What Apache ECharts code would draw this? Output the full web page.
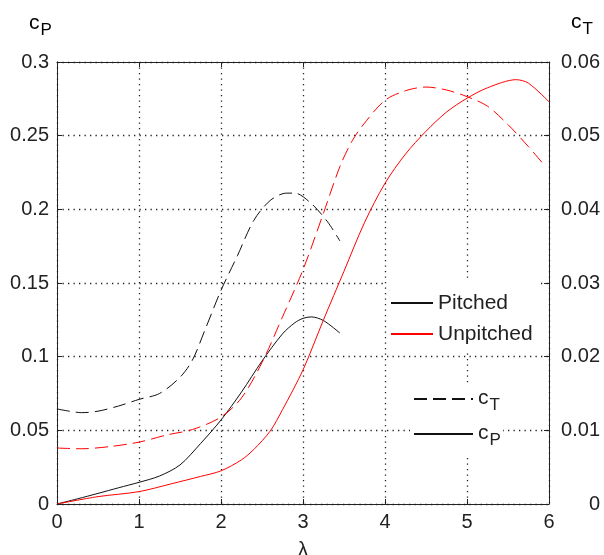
<!DOCTYPE html>
<html>

<head>
  <meta charset="utf-8">
  <title>cP / cT</title>
  <script src="https://cdn.jsdelivr.net/npm/echarts@6/dist/echarts.min.js"></script>
</head>

<body style="margin:0;background:#fff">
  <div id="main" style="width:604px;height:555px;"></div>
  <script type="text/javascript">
    // pitched rotor, power coefficient (left axis)
    var lambdaPitchedCp = [0, 0.25, 0.5, 0.75, 1.0, 1.25, 1.5, 1.75, 2.0, 2.25, 2.5, 2.75, 2.9, 3.0, 3.1, 3.25, 3.45]
    var pitchedCp = [0, 0.0035, 0.0072, 0.011, 0.0147, 0.019, 0.0265, 0.041, 0.057, 0.076, 0.097, 0.1155, 0.123, 0.126, 0.127, 0.1245, 0.116]
    // pitched rotor, thrust coefficient (right axis)
    var lambdaPitchedCt = [0, 0.15, 0.3, 0.5, 0.75, 1.0, 1.25, 1.5, 1.65, 1.8, 2.0, 2.2, 2.4, 2.6, 2.8, 2.9, 3.1, 3.3, 3.45]
    var pitchedCt = [0.0129, 0.0126, 0.0124, 0.0126, 0.0133, 0.0142, 0.015, 0.0172, 0.0195, 0.0235, 0.029, 0.0337, 0.0385, 0.0412, 0.0422, 0.0422, 0.0408, 0.0383, 0.0357]
    // unpitched rotor
    var lambdaUnpitchedCp = [0, 0.5, 1.0, 1.4, 1.75, 2.0, 2.25, 2.4, 2.6, 2.75, 3.0, 3.25, 3.5, 3.75, 4.0, 4.25, 4.5, 4.75, 5.0, 5.25, 5.6, 5.75, 6.0]
    var unpitchedCp = [0, 0.005, 0.0084, 0.0138, 0.0187, 0.0225, 0.030, 0.037, 0.0495, 0.064, 0.091, 0.125, 0.158, 0.191, 0.2177, 0.2375, 0.253, 0.266, 0.2754, 0.2825, 0.288, 0.2856, 0.273]
    var lambdaUnpitchedCt = [0, 0.3, 0.65, 1.0, 1.35, 1.65, 2.0, 2.25, 2.5, 2.75, 3.0, 3.25, 3.45, 3.6, 3.75, 4.0, 4.25, 4.5, 4.75, 5.0, 5.25, 5.5, 5.75, 5.95]
    var unpitchedCt = [0.0076, 0.0075, 0.0078, 0.0084, 0.0094, 0.0101, 0.0118, 0.0144, 0.0192, 0.0254, 0.0318, 0.0395, 0.0458, 0.0493, 0.0517, 0.0548, 0.0561, 0.0566, 0.0562, 0.0553, 0.054, 0.0515, 0.0485, 0.0459]

    var font = 'Liberation Sans'
    var ink = '#222'
    var dash = [13, 6]

    function pairs(xs, ys) {
      return xs.map(function (x, i) { return [x, ys[i]] })
    }

    var subRich = {
      c: { fontSize: 21, fontFamily: font, color: ink, lineHeight: 22, verticalAlign: 'top' },
      s: { fontSize: 17, fontFamily: font, color: ink, lineHeight: 22, padding: [9, 0, 0, 1], verticalAlign: 'top' }
    }

    var myChart = echarts.init(document.getElementById('main'))

    var axisLine = { show: true, onZero: false, lineStyle: { color: '#222', width: 1 } }
    var tick = { show: true, inside: true, length: 5, lineStyle: { color: '#222' } }
    var dotted = { show: true, lineStyle: { color: '#222', width: 1.3, type: [1.3, 4.2] } }
    var label = { fontSize: 20, fontFamily: font, color: ink }

    myChart.setOption({
      animation: false,
      backgroundColor: '#fff',
      grid: { left: 57, right: 55, top: 62, bottom: 51, outerBoundsMode: 'none' },
      xAxis: [{
        type: 'value', min: 0, max: 6, interval: 1, position: 'bottom',
        axisLine: axisLine, axisTick: tick, splitLine: dotted,
        axisLabel: Object.assign({ margin: 8 }, label),
        name: 'λ', nameLocation: 'middle', nameGap: 36,
        nameTextStyle: { fontSize: 20, fontFamily: font, color: ink }
      }, {
        type: 'value', min: 0, max: 6, interval: 1, position: 'top',
        axisLine: axisLine, axisTick: tick, splitLine: { show: false },
        axisLabel: { show: false }
      }],
      yAxis: [{
        type: 'value', min: 0, max: 0.3, interval: 0.05, position: 'left',
        axisLine: axisLine, axisTick: tick, splitLine: dotted,
        axisLabel: Object.assign({ margin: 8 }, label)
      }, {
        type: 'value', min: 0, max: 0.06, interval: 0.01, position: 'right',
        axisLine: axisLine, axisTick: tick, splitLine: { show: false },
        axisLabel: Object.assign({ margin: 51, align: 'right' }, label)
      }],
      legend: [{
        data: ['Pitched', 'Unpitched'],
        orient: 'vertical', left: 390, top: 291, padding: 0,
        itemWidth: 42, itemHeight: 14, itemGap: 7, selectedMode: false,
        itemStyle: { opacity: 0 },
        textStyle: { fontSize: 21, fontFamily: font, color: ink, lineHeight: 24 }
      }, {
        data: ['cT', 'cP'],
        orient: 'vertical', left: 413, top: 388, padding: 0,
        itemWidth: 59, itemHeight: 14, itemGap: 9, selectedMode: false,
        itemStyle: { opacity: 0 },
        formatter: function (name) {
          return '{c|c}{s|' + name.charAt(1) + '}'
        },
        textStyle: { rich: subRich }
      }],
      graphic: [
        { type: 'rect', z: 1, silent: true, shape: { x: 387, y: 279, width: 154, height: 73 }, style: { fill: '#fff' } },
        { type: 'rect', z: 1, silent: true, shape: { x: 410, y: 385, width: 93, height: 72 }, style: { fill: '#fff' } },
        { type: 'text', x: 29, y: 13, style: { text: '{c|c}{s|P}', rich: subRich } },
        { type: 'text', x: 571, y: 12, style: { text: '{c|c}{s|T}', rich: subRich } }
      ],
      series: [{
        name: 'Pitched', type: 'line', yAxisIndex: 0, symbol: 'none', smooth: 0.3, color: '#111',
        lineStyle: { width: 1, type: 'solid' },
        data: pairs(lambdaPitchedCp, pitchedCp)
      }, {
        name: 'Unpitched', type: 'line', yAxisIndex: 0, symbol: 'none', smooth: 0.3, color: '#ff0000',
        lineStyle: { width: 1, type: 'solid' },
        data: pairs(lambdaUnpitchedCp, unpitchedCp)
      }, {
        name: 'Pitched', type: 'line', yAxisIndex: 1, symbol: 'none', smooth: 0.3, color: '#111',
        lineStyle: { width: 1, type: dash },
        data: pairs(lambdaPitchedCt, pitchedCt)
      }, {
        name: 'Unpitched', type: 'line', yAxisIndex: 1, symbol: 'none', smooth: 0.3, color: '#ff0000',
        lineStyle: { width: 1, type: dash },
        data: pairs(lambdaUnpitchedCt, unpitchedCt)
      }, {
        // legend-only entries for the line styles
        name: 'cT', type: 'line', symbol: 'none', color: '#111',
        lineStyle: { width: 1, type: dash }, data: []
      }, {
        name: 'cP', type: 'line', symbol: 'none', color: '#111',
        lineStyle: { width: 1, type: 'solid' }, data: []
      }]
    })
  </script>
</body>

</html>
